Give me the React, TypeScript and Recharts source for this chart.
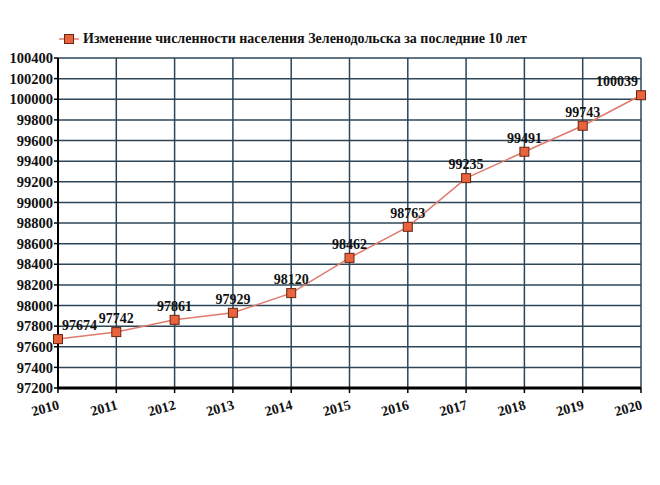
import { CartesianGrid, Line, LineChart, XAxis, YAxis } from 'recharts'

const years = ['2010', '2011', '2012', '2013', '2014', '2015', '2016', '2017', '2018', '2019', '2020']
const population = [97674, 97742, 97861, 97929, 98120, 98462, 98763, 99235, 99491, 99743, 100039]
const yTicks = [
  97200, 97400, 97600, 97800, 98000, 98200, 98400, 98600, 98800, 99000, 99200, 99400, 99600,
  99800, 100000, 100200, 100400,
]
const seriesName = 'Изменение численности населения Зеленодольска за последние 10 лет'

const data = years.map((year, i) => ({ year, value: population[i] }))

const FONT = '"Liberation Serif", "Times New Roman", serif'

function SquareDot(props: any) {
  const { cx, cy } = props
  if (cx == null || cy == null) return null
  return <rect x={cx - 4.5} y={cy - 4.5} width={9} height={9} fill="#e8643c" stroke="#6b2410" strokeWidth={1} />
}

function ValueLabel(props: any) {
  const { x, y, value, index } = props
  let anchor: 'start' | 'middle' | 'end' = 'middle'
  let dx = 0
  if (index === 0) {
    anchor = 'start'
    dx = 4
  } else if (index === years.length - 1) {
    anchor = 'end'
    dx = -3
  }
  return (
    <text x={x + dx} y={y - 9} textAnchor={anchor} fontFamily={FONT} fontWeight="bold" fontSize={14} fill="#111">
      {value}
    </text>
  )
}

function XTick(props: any) {
  const { x, y, payload } = props
  return (
    <text
      x={x + 2}
      y={y + 14}
      textAnchor="end"
      transform={`rotate(-15 ${x + 2} ${y + 14})`}
      fontFamily={FONT}
      fontWeight="bold"
      fontSize={14}
      fill="#111"
    >
      {payload.value}
    </text>
  )
}

function LegendBox() {
  return (
    <div
      style={{
        position: 'absolute',
        left: 59,
        top: 31,
        display: 'flex',
        alignItems: 'center',
        fontFamily: FONT,
        fontWeight: 'bold',
        fontSize: 14,
        color: '#111',
        whiteSpace: 'nowrap',
      }}
    >
      <svg width={20} height={12} style={{ marginRight: 4 }}>
        <line x1={0} y1={6} x2={20} y2={6} stroke="#e07a6c" strokeWidth={1.5} />
        <rect x={5.5} y={1.5} width={9} height={9} fill="#e8643c" stroke="#6b2410" strokeWidth={1} />
      </svg>
      <span>{seriesName}</span>
    </div>
  )
}

export default function App() {
  return (
    <div style={{ position: 'absolute', left: 0, top: 0, width: 660, height: 485, background: '#fff' }}>
      <LineChart width={660} height={485} data={data} margin={{ top: 58, right: 19, bottom: 67, left: 0 }}>
        <CartesianGrid stroke="#2c4658" strokeWidth={1.5} />
        <XAxis
          dataKey="year"
          height={30}
          tick={<XTick />}
          tickLine={{ stroke: '#000', strokeWidth: 1.5 }}
          tickSize={5}
          axisLine={{ stroke: '#000', strokeWidth: 3 }}
          interval={0}
        />
        <YAxis
          width={58}
          domain={[97200, 100400]}
          ticks={yTicks}
          interval={0}
          tick={{ fontFamily: FONT, fontWeight: 'bold', fontSize: 14.5, fill: '#111' }}
          tickLine={{ stroke: '#000', strokeWidth: 1.5 }}
          tickSize={4}
          tickMargin={1}
          axisLine={{ stroke: '#000', strokeWidth: 2 }}
        />
        <Line
          type="linear"
          dataKey="value"
          name={seriesName}
          stroke="#e07a6c"
          strokeWidth={1.5}
          dot={<SquareDot />}
          activeDot={false}
          label={<ValueLabel />}
          isAnimationActive={false}
        />
      </LineChart>
      <LegendBox />
    </div>
  )
}
